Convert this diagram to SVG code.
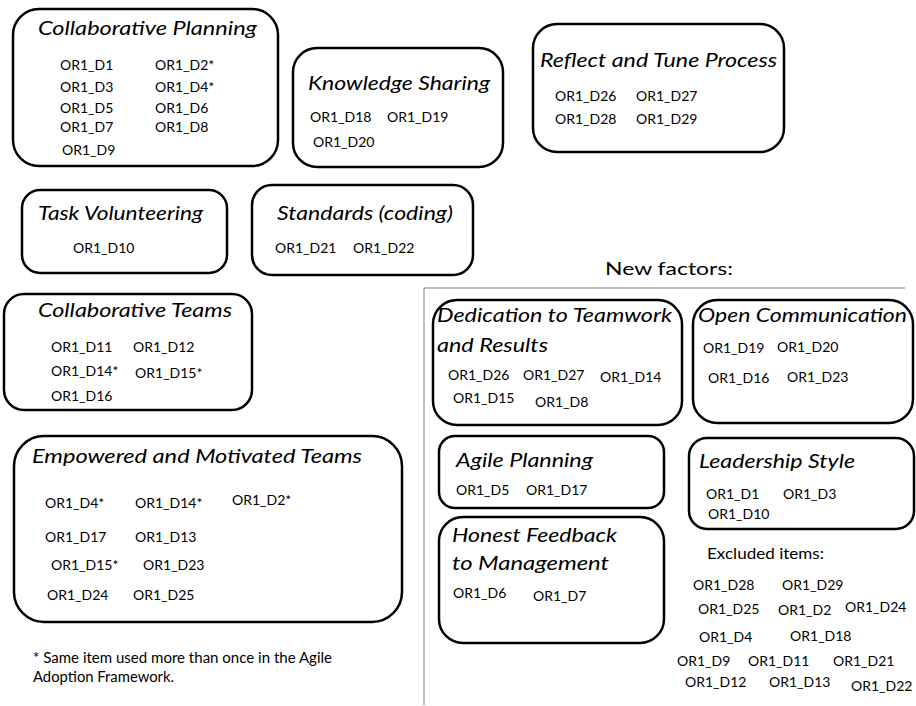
<svg xmlns="http://www.w3.org/2000/svg" width="916" height="706" viewBox="0 0 916 706">
<style>
.box{fill:#fff;stroke:#000;stroke-width:2.5}
.t{font-family:Lato,"Open Sans","Liberation Sans",sans-serif;font-style:italic;font-size:20px;fill:#000}
.i{font-family:Lato,"Open Sans","Liberation Sans",sans-serif;font-size:14px;fill:#000}
.n{font-family:Lato,"Open Sans","Liberation Sans",sans-serif;font-size:14.5px;fill:#000}
.h{font-family:Lato,"Open Sans","Liberation Sans",sans-serif;font-size:18px;fill:#000}
.frame{fill:none;stroke:#808080;stroke-width:1}
</style>
<rect width="916" height="706" fill="#fff"/>
<g id="frame">
<polyline class="frame" points="905,288 424,288 424,705"/>
<text class="h" x="605" y="275" textLength="128" lengthAdjust="spacingAndGlyphs">New factors:</text>
</g>
<g id="collaborative-planning">
<rect class="box" x="13" y="9" width="265" height="157" rx="26"/>
<text class="t" x="38" y="35" textLength="219" lengthAdjust="spacingAndGlyphs">Collaborative Planning</text>
<text class="i" x="60" y="70">OR1_D1</text><text class="i" x="155" y="70">OR1_D2*</text>
<text class="i" x="60" y="92">OR1_D3</text><text class="i" x="155" y="92">OR1_D4*</text>
<text class="i" x="60" y="113">OR1_D5</text><text class="i" x="155" y="113">OR1_D6</text>
<text class="i" x="60" y="132">OR1_D7</text><text class="i" x="155" y="132">OR1_D8</text>
<text class="i" x="62" y="155">OR1_D9</text>
</g>
<g id="knowledge-sharing">
<rect class="box" x="293" y="48" width="210" height="119" rx="24"/>
<text class="t" x="308" y="90" textLength="182" lengthAdjust="spacingAndGlyphs">Knowledge Sharing</text>
<text class="i" x="310" y="122">OR1_D18</text><text class="i" x="387" y="122">OR1_D19</text>
<text class="i" x="313" y="147">OR1_D20</text>
</g>
<g id="reflect-tune">
<rect class="box" x="533" y="24" width="251" height="128" rx="24"/>
<text class="t" x="540" y="67" textLength="237" lengthAdjust="spacingAndGlyphs">Reflect and Tune Process</text>
<text class="i" x="555" y="101">OR1_D26</text><text class="i" x="636" y="101">OR1_D27</text>
<text class="i" x="555" y="124">OR1_D28</text><text class="i" x="636" y="124">OR1_D29</text>
</g>
<g id="task-volunteering">
<rect class="box" x="22" y="190" width="205" height="83" rx="18"/>
<text class="t" x="38" y="220" textLength="165" lengthAdjust="spacingAndGlyphs">Task Volunteering</text>
<text class="i" x="73" y="253">OR1_D10</text>
</g>
<g id="standards">
<rect class="box" x="252" y="185" width="221" height="90" rx="20"/>
<text class="t" x="277" y="220" textLength="176" lengthAdjust="spacingAndGlyphs">Standards (coding)</text>
<text class="i" x="275" y="253">OR1_D21</text><text class="i" x="353" y="253">OR1_D22</text>
</g>
<g id="collaborative-teams">
<rect class="box" x="4" y="294" width="248" height="116" rx="20"/>
<text class="t" x="38" y="317" textLength="194" lengthAdjust="spacingAndGlyphs">Collaborative Teams</text>
<text class="i" x="51" y="352">OR1_D11</text><text class="i" x="133" y="352">OR1_D12</text>
<text class="i" x="51" y="376">OR1_D14*</text><text class="i" x="135" y="378">OR1_D15*</text>
<text class="i" x="51" y="401">OR1_D16</text>
</g>
<g id="empowered-teams">
<rect class="box" x="14" y="436" width="388" height="186" rx="30"/>
<text class="t" x="32" y="463" textLength="330" lengthAdjust="spacingAndGlyphs">Empowered and Motivated Teams</text>
<text class="i" x="45" y="508">OR1_D4*</text><text class="i" x="135" y="508">OR1_D14*</text><text class="i" x="232" y="505">OR1_D2*</text>
<text class="i" x="45" y="542">OR1_D17</text><text class="i" x="135" y="542">OR1_D13</text>
<text class="i" x="51" y="570">OR1_D15*</text><text class="i" x="143" y="570">OR1_D23</text>
<text class="i" x="47" y="600">OR1_D24</text><text class="i" x="133" y="600">OR1_D25</text>
</g>
<g id="footnote">
<text class="n" x="33" y="663" textLength="299" lengthAdjust="spacingAndGlyphs">* Same item used more than once in the Agile</text>
<text class="n" x="33" y="682" textLength="141" lengthAdjust="spacingAndGlyphs">Adoption Framework.</text>
</g>
<g id="dedication">
<rect class="box" x="433" y="300" width="249" height="125" rx="24"/>
<text class="t" x="437" y="322" textLength="235" lengthAdjust="spacingAndGlyphs">Dedication to Teamwork</text>
<text class="t" x="437" y="352" textLength="111" lengthAdjust="spacingAndGlyphs">and Results</text>
<text class="i" x="448" y="380">OR1_D26</text><text class="i" x="523" y="380">OR1_D27</text><text class="i" x="600" y="382">OR1_D14</text>
<text class="i" x="453" y="403">OR1_D15</text><text class="i" x="535" y="407">OR1_D8</text>
</g>
<g id="open-communication">
<rect class="box" x="693" y="300" width="220" height="123" rx="24"/>
<text class="t" x="698" y="322" textLength="209" lengthAdjust="spacingAndGlyphs">Open Communication</text>
<text class="i" x="703" y="353">OR1_D19</text><text class="i" x="777" y="352">OR1_D20</text>
<text class="i" x="708" y="383">OR1_D16</text><text class="i" x="787" y="382">OR1_D23</text>
</g>
<g id="agile-planning">
<rect class="box" x="439" y="436" width="225" height="72" rx="16"/>
<text class="t" x="456" y="467" textLength="137" lengthAdjust="spacingAndGlyphs">Agile Planning</text>
<text class="i" x="456" y="495">OR1_D5</text><text class="i" x="526" y="495">OR1_D17</text>
</g>
<g id="honest-feedback">
<rect class="box" x="439" y="517" width="225" height="126" rx="24"/>
<text class="t" x="452" y="542" textLength="165" lengthAdjust="spacingAndGlyphs">Honest Feedback</text>
<text class="t" x="452" y="570" textLength="157" lengthAdjust="spacingAndGlyphs">to Management</text>
<text class="i" x="453" y="598">OR1_D6</text><text class="i" x="533" y="601">OR1_D7</text>
</g>
<g id="leadership-style">
<rect class="box" x="689" y="438" width="225" height="91" rx="18"/>
<text class="t" x="699" y="468" textLength="156" lengthAdjust="spacingAndGlyphs">Leadership Style</text>
<text class="i" x="706" y="499">OR1_D1</text><text class="i" x="783" y="499">OR1_D3</text>
<text class="i" x="708" y="519">OR1_D10</text>
</g>
<g id="excluded">
<text class="n" x="707" y="559" textLength="117" lengthAdjust="spacingAndGlyphs">Excluded items:</text>
<text class="i" x="693" y="590">OR1_D28</text><text class="i" x="782" y="590">OR1_D29</text>
<text class="i" x="698" y="614">OR1_D25</text><text class="i" x="778" y="615">OR1_D2</text><text class="i" x="845" y="612">OR1_D24</text>
<text class="i" x="699" y="642">OR1_D4</text><text class="i" x="790" y="641">OR1_D18</text>
<text class="i" x="677" y="666">OR1_D9</text><text class="i" x="748" y="666">OR1_D11</text><text class="i" x="833" y="666">OR1_D21</text>
<text class="i" x="685" y="687">OR1_D12</text><text class="i" x="769" y="687">OR1_D13</text><text class="i" x="851" y="691">OR1_D22</text>
</g>
</svg>
